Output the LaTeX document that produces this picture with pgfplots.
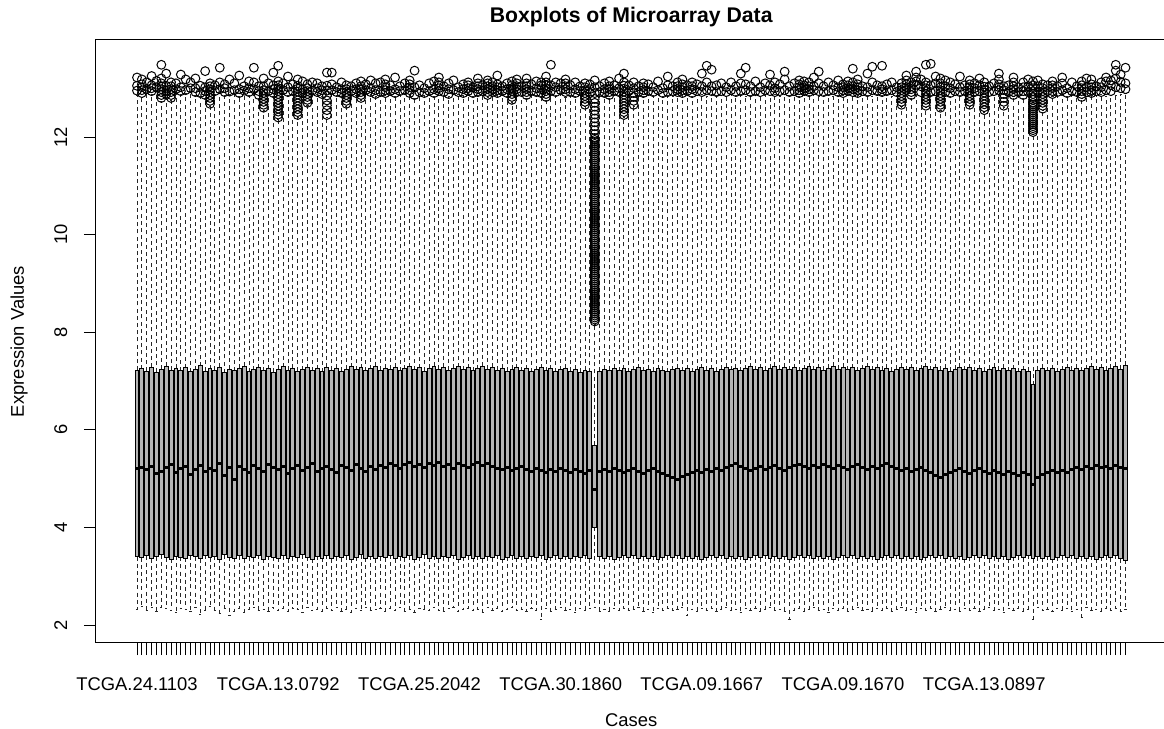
\documentclass[border=0pt]{standalone}
\usepackage{pgfplots}
\pgfplotsset{compat=1.18}
\usepackage{pgfplotstable}
\usepgfplotslibrary{statistics}
\usepackage{fontspec}
\setmainfont{Liberation Sans}

\pgfplotstableread{
x lw lq med uq uw
0 2.32 3.40 5.20 7.22 12.85
1 2.38 3.38 5.22 7.25 12.82
2 2.30 3.42 5.18 7.20 12.90
3 2.35 3.36 5.25 7.28 12.88
4 2.28 3.40 5.10 7.18 12.95
5 2.36 3.44 5.15 7.24 12.72
6 2.33 3.38 5.22 7.30 12.80
7 2.30 3.35 5.28 7.22 12.74
8 2.25 3.41 5.12 7.26 12.92
9 2.34 3.39 5.20 7.21 12.88
10 2.31 3.37 5.24 7.27 12.90
11 2.27 3.42 5.08 7.19 12.93
12 2.35 3.40 5.18 7.23 12.86
13 2.22 3.36 5.26 7.31 12.84
14 2.30 3.43 5.14 7.20 12.80
15 2.37 3.38 5.20 7.25 12.62
16 2.29 3.41 5.16 7.22 12.88
17 2.24 3.35 5.30 7.28 12.91
18 2.33 3.44 5.06 7.17 12.85
19 2.20 3.39 5.22 7.24 12.87
20 2.28 3.37 4.98 7.21 12.90
21 2.34 3.42 5.24 7.26 12.83
22 2.26 3.36 5.18 7.30 12.89
23 2.31 3.40 5.12 7.19 12.86
24 2.36 3.38 5.26 7.23 12.92
25 2.29 3.43 5.20 7.27 12.80
26 2.32 3.35 5.14 7.21 12.55
27 2.27 3.41 5.28 7.25 12.88
28 2.35 3.39 5.22 7.18 12.84
29 2.30 3.37 5.18 7.24 12.35
30 2.33 3.42 5.24 7.29 12.90
31 2.28 3.36 5.10 7.22 12.86
32 2.34 3.40 5.20 7.26 12.88
33 2.31 3.38 5.26 7.20 12.40
34 2.25 3.44 5.16 7.23 12.85
35 2.36 3.39 5.22 7.27 12.65
36 2.29 3.35 5.30 7.21 12.89
37 2.32 3.41 5.14 7.25 12.87
38 2.27 3.37 5.20 7.19 12.83
39 2.34 3.43 5.24 7.28 12.40
40 2.30 3.36 5.18 7.22 12.90
41 2.35 3.40 5.12 7.26 12.86
42 2.28 3.38 5.26 7.20 12.84
43 2.32 3.42 5.22 7.24 12.62
44 2.26 3.35 5.16 7.29 12.88
45 2.33 3.39 5.28 7.23 12.85
46 2.30 3.44 5.20 7.27 12.75
47 2.36 3.37 5.14 7.21 12.90
48 2.29 3.41 5.24 7.25 12.87
49 2.31 3.36 5.18 7.30 12.83
50 2.34 3.40 5.26 7.22 12.86
51 2.27 3.38 5.22 7.26 12.85
52 2.33 3.43 5.30 7.24 12.89
53 2.30 3.36 5.26 7.28 12.84
54 2.35 3.40 5.20 7.21 12.88
55 2.28 3.38 5.28 7.25 12.90
56 2.32 3.42 5.32 7.29 12.86
57 2.26 3.35 5.24 7.23 12.80
58 2.34 3.39 5.28 7.27 12.87
59 2.31 3.44 5.22 7.20 12.85
60 2.29 3.37 5.30 7.26 12.88
61 2.35 3.41 5.26 7.30 12.84
62 2.30 3.36 5.32 7.24 12.89
63 2.27 3.40 5.24 7.28 12.86
64 2.33 3.38 5.28 7.22 12.83
65 2.36 3.43 5.20 7.26 12.90
66 2.28 3.35 5.30 7.29 12.87
67 2.31 3.39 5.26 7.23 12.85
68 2.34 3.42 5.22 7.27 12.88
69 2.29 3.37 5.28 7.21 12.84
70 2.32 3.41 5.32 7.25 12.86
71 2.26 3.36 5.26 7.30 12.89
72 2.35 3.40 5.30 7.24 12.82
73 2.30 3.38 5.24 7.28 12.87
74 2.33 3.43 5.20 7.22 12.85
75 2.28 3.35 5.18 7.26 12.88
76 2.31 3.39 5.22 7.20 12.84
77 2.36 3.42 5.16 7.24 12.70
78 2.29 3.37 5.20 7.27 12.86
79 2.32 3.41 5.24 7.21 12.85
80 2.27 3.36 5.18 7.25 12.80
81 2.34 3.40 5.14 7.19 12.88
82 2.30 3.38 5.20 7.23 12.86
83 2.12 3.43 5.16 7.27 12.84
84 2.33 3.35 5.12 7.21 12.75
85 2.28 3.39 5.18 7.25 12.87
86 2.31 3.42 5.14 7.19 12.85
87 2.35 3.37 5.20 7.23 12.89
88 2.29 3.41 5.16 7.26 12.82
89 2.32 3.36 5.12 7.20 12.86
90 2.26 3.40 5.18 7.24 12.84
91 2.34 3.38 5.14 7.18 12.88
92 2.30 3.43 5.10 7.22 12.62
93 2.33 3.36 5.16 7.19 12.85
94 2.35 4.00 4.77 5.68 8.15
95 2.28 3.40 5.14 7.20 12.87
96 2.32 3.37 5.18 7.24 12.84
97 2.27 3.41 5.14 7.22 12.80
98 2.34 3.35 5.20 7.26 12.88
99 2.30 3.39 5.16 7.21 12.85
100 2.33 3.42 5.12 7.25 12.40
101 2.29 3.38 5.16 7.19 12.87
102 2.31 3.43 5.20 7.23 12.62
103 2.36 3.36 5.14 7.27 12.86
104 2.28 3.40 5.10 7.21 12.84
105 2.32 3.37 5.16 7.24 12.88
106 2.26 3.41 5.20 7.20 12.85
107 2.34 3.35 5.14 7.25 12.87
108 2.30 3.39 5.10 7.22 12.83
109 2.33 3.42 5.06 7.19 12.86
110 2.29 3.38 5.02 7.23 12.84
111 2.31 3.43 4.98 7.26 12.88
112 2.35 3.36 5.04 7.21 12.85
113 2.20 3.40 5.08 7.25 12.87
114 2.32 3.37 5.12 7.19 12.84
115 2.27 3.41 5.16 7.23 12.86
116 2.34 3.35 5.12 7.27 12.88
117 2.30 3.39 5.18 7.22 12.83
118 2.33 3.42 5.14 7.25 12.87
119 2.28 3.38 5.20 7.20 12.85
120 2.31 3.43 5.16 7.24 12.86
121 2.36 3.36 5.22 7.28 12.84
122 2.29 3.40 5.26 7.23 12.88
123 2.32 3.37 5.30 7.26 12.85
124 2.26 3.41 5.24 7.21 12.87
125 2.34 3.35 5.20 7.25 12.83
126 2.30 3.39 5.16 7.29 12.86
127 2.33 3.42 5.20 7.23 12.88
128 2.28 3.38 5.24 7.27 12.84
129 2.31 3.43 5.18 7.22 12.86
130 2.35 3.36 5.22 7.26 12.85
131 2.29 3.40 5.26 7.30 12.87
132 2.32 3.37 5.20 7.24 12.84
133 2.27 3.41 5.16 7.28 12.88
134 2.12 3.35 5.22 7.23 12.85
135 2.30 3.39 5.26 7.27 12.86
136 2.33 3.42 5.28 7.21 12.84
137 2.28 3.38 5.24 7.25 12.88
138 2.31 3.43 5.20 7.29 12.85
139 2.36 3.36 5.26 7.23 12.87
140 2.29 3.40 5.22 7.27 12.83
141 2.32 3.37 5.28 7.22 12.86
142 2.26 3.41 5.24 7.26 12.88
143 2.34 3.35 5.20 7.30 12.84
144 2.30 3.39 5.26 7.24 12.86
145 2.33 3.42 5.22 7.28 12.85
146 2.28 3.38 5.18 7.23 12.87
147 2.31 3.43 5.24 7.27 12.84
148 2.35 3.36 5.28 7.21 12.85
149 2.29 3.40 5.22 7.25 12.85
150 2.32 3.37 5.18 7.29 12.86
151 2.27 3.41 5.24 7.23 12.84
152 2.34 3.35 5.20 7.27 12.87
153 2.30 3.39 5.26 7.22 12.85
154 2.33 3.42 5.30 7.26 12.88
155 2.28 3.38 5.24 7.20 12.84
156 2.31 3.43 5.20 7.24 12.86
157 2.36 3.36 5.16 7.28 12.62
158 2.29 3.40 5.20 7.23 12.85
159 2.32 3.37 5.14 7.27 12.80
160 2.26 3.41 5.18 7.21 12.87
161 2.34 3.35 5.22 7.25 12.84
162 2.30 3.39 5.16 7.29 12.60
163 2.33 3.42 5.12 7.23 12.86
164 2.28 3.38 5.06 7.27 12.85
165 2.31 3.43 5.02 7.22 12.55
166 2.35 3.36 5.08 7.26 12.87
167 2.29 3.40 5.12 7.20 12.84
168 2.32 3.37 5.16 7.24 12.86
169 2.27 3.41 5.20 7.28 12.85
170 2.34 3.35 5.14 7.23 12.88
171 2.30 3.39 5.10 7.27 12.62
172 2.33 3.42 5.16 7.21 12.86
173 2.28 3.38 5.20 7.25 12.85
174 2.31 3.43 5.14 7.20 12.50
175 2.36 3.36 5.10 7.24 12.84
176 2.29 3.40 5.16 7.28 12.86
177 2.32 3.37 5.12 7.22 12.85
178 2.26 3.41 5.08 7.26 12.60
179 2.34 3.35 5.14 7.21 12.87
180 2.30 3.39 5.10 7.25 12.84
181 2.33 3.42 5.06 7.19 12.86
182 2.28 3.38 5.12 7.23 12.80
183 2.31 3.43 5.08 7.20 12.85
184 2.12 3.36 4.88 6.92 12.05
185 2.35 3.40 5.02 7.22 12.86
186 2.29 3.37 5.08 7.26 12.55
187 2.32 3.41 5.12 7.21 12.84
188 2.27 3.35 5.16 7.25 12.84
189 2.34 3.39 5.12 7.19 12.85
190 2.30 3.42 5.16 7.23 12.86
191 2.33 3.38 5.12 7.27 12.84
192 2.28 3.43 5.18 7.22 12.88
193 2.31 3.36 5.22 7.26 12.85
194 2.15 3.40 5.18 7.21 12.78
195 2.35 3.37 5.24 7.25 12.84
196 2.29 3.41 5.20 7.29 12.86
197 2.32 3.35 5.26 7.23 12.85
198 2.27 3.39 5.22 7.27 12.88
199 2.34 3.42 5.24 7.22 12.84
200 2.30 3.38 5.20 7.26 12.86
201 2.33 3.43 5.26 7.30 12.85
202 2.28 3.36 5.22 7.24 12.87
203 2.31 3.33 5.20 7.32 12.90
}\boxdata

\begin{document}
\begin{tikzpicture}
\begin{axis}[
  at={(48pt,43pt)}, anchor=south west,
  scale only axis, width=535.25pt, height=301.5pt,
  xmin=-8.42, xmax=211.42, ymin=1.631, ymax=13.988,
  boxplot/draw direction=y,
  boxplot/box extend=0.8,
  boxplot/whisker extend=0.45,
  boxplot/every box/.style={draw=black, fill=gray!58, line width=0.5pt, solid},
  boxplot/every median/.style={draw=black, line width=1.5pt, solid},
  boxplot/every whisker/.style={draw=black!85, line width=0.45pt, dash pattern=on 2pt off 1.6pt},
  axis line style={black, line width=0.5pt},
  tick align=outside, tick pos=left,
  major tick length=6pt, minor tick length=6pt,
  every tick/.style={black, line width=0.45pt},
  every minor tick/.style={black, line width=0.45pt},
  xtick={0,29,58,87,116,145,174},
  xticklabels={TCGA.24.1103,TCGA.13.0792,TCGA.25.2042,TCGA.30.1860,TCGA.09.1667,TCGA.09.1670,TCGA.13.0897},
  minor xtick={0,...,203},
  ytick={2,4,6,8,10,12},
  /pgf/number format/assume math mode=true,
  tick label style={font=\fontsize{9.2pt}{11pt}\selectfont, black},
  xticklabel style={anchor=north, inner ysep=11.2pt},
  yticklabel style={rotate=90, anchor=south, inner ysep=8.2pt},
  title={Boxplots of Microarray Data},
  title style={font=\fontsize{10.6pt}{12pt}\selectfont\bfseries, at={(axis description cs:0.5,1.0381)}, anchor=center, yshift=-6pt},
  xlabel={Cases},
  xlabel style={font=\fontsize{9.2pt}{11pt}\selectfont, at={(axis description cs:0.5,-0.1277)}, anchor=center},
  ylabel={Expression Values},
  ylabel style={font=\fontsize{9.2pt}{11pt}\selectfont, at={(axis description cs:-0.0719,0.5)}, anchor=center},
]
\pgfplotsinvokeforeach{0,...,203}{
  \pgfplotstablegetelem{#1}{lw}\of\boxdata \let\LW\pgfplotsretval
  \pgfplotstablegetelem{#1}{lq}\of\boxdata \let\LQ\pgfplotsretval
  \pgfplotstablegetelem{#1}{med}\of\boxdata \let\MED\pgfplotsretval
  \pgfplotstablegetelem{#1}{uq}\of\boxdata \let\UQ\pgfplotsretval
  \pgfplotstablegetelem{#1}{uw}\of\boxdata \let\UW\pgfplotsretval
  \edef\doboxplot{\noexpand\addplot[black, boxplot prepared={draw position=#1, lower whisker=\LW, lower quartile=\LQ, median=\MED, upper quartile=\UQ, upper whisker=\UW}] coordinates {};}
  \doboxplot
}
\addplot[only marks, mark=o, mark size=2.2pt, mark options={black, line width=0.5pt, solid}] coordinates {
(0,12.95)(0,13.05)(0,13.22)
(1,12.90)(1,12.96)(1,13.02)(1,13.08)(1,13.18)
(2,12.98)(2,13.12)
(3,12.94)(3,13.00)(3,13.06)(3,13.25)
(4,13.02)(4,13.15)
(5,12.80)(5,12.86)(5,12.92)(5,12.98)(5,13.04)(5,13.10)(5,13.20)(5,13.48)
(6,12.88)(6,12.95)(6,13.05)(6,13.30)
(7,12.80)(7,12.86)(7,12.92)(7,12.98)(7,13.04)(7,13.12)
(8,12.98)(8,13.10)
(9,12.94)(9,13.02)(9,13.28)
(10,12.96)(10,13.18)
(11,13.00)(11,13.12)
(12,12.92)(12,13.00)(12,13.20)
(13,12.90)(13,13.05)
(14,12.86)(14,12.94)(14,13.02)(14,13.35)
(15,12.68)(15,12.74)(15,12.80)(15,12.86)(15,12.92)(15,12.98)(15,13.04)(15,13.10)
(16,12.94)(16,13.06)
(17,12.98)(17,13.12)(17,13.42)
(18,12.92)(18,13.00)(18,13.08)
(19,12.93)(19,13.18)
(20,12.96)(20,13.10)
(21,12.90)(21,12.98)(21,13.26)
(22,12.95)(22,13.04)
(23,12.92)(23,13.00)(23,13.14)
(24,12.98)(24,13.12)(24,13.42)
(25,12.86)(25,12.94)(25,13.04)
(26,12.60)(26,12.66)(26,12.72)(26,12.78)(26,12.84)(26,12.90)(26,12.96)(26,13.04)(26,13.20)
(27,12.94)(27,13.10)
(28,12.90)(28,12.98)(28,13.06)(28,13.32)
(29,12.40)(29,12.46)(29,12.52)(29,12.58)(29,12.64)(29,12.70)(29,12.76)(29,12.82)(29,12.88)(29,12.94)(29,13.00)(29,13.06)(29,13.14)(29,13.46)
(30,12.96)(30,13.10)
(31,12.92)(31,13.02)(31,13.24)
(32,12.94)(32,13.08)
(33,12.45)(33,12.51)(33,12.57)(33,12.63)(33,12.69)(33,12.75)(33,12.81)(33,12.87)(33,12.93)(33,12.99)(33,13.05)(33,13.18)
(34,12.90)(34,12.98)(34,13.14)
(35,12.70)(35,12.76)(35,12.82)(35,12.88)(35,12.94)(35,13.00)(35,13.08)
(36,12.95)(36,13.12)
(37,12.92)(37,13.00)(37,13.10)
(38,12.88)(38,12.96)(38,13.04)
(39,12.45)(39,12.55)(39,12.65)(39,12.75)(39,12.85)(39,12.95)(39,13.05)(39,13.32)
(40,12.96)(40,13.08)(40,13.32)
(41,12.92)(41,13.02)
(42,12.90)(42,12.98)(42,13.12)
(43,12.68)(43,12.74)(43,12.80)(43,12.86)(43,12.92)(43,12.98)(43,13.06)
(44,12.94)(44,13.04)
(45,12.90)(45,12.98)(45,13.10)
(46,12.80)(46,12.86)(46,12.92)(46,12.98)(46,13.04)(46,13.14)
(47,12.96)(47,13.08)
(48,12.92)(48,13.00)(48,13.16)
(49,12.88)(49,12.96)(49,13.10)
(50,12.92)(50,13.12)
(51,12.90)(51,12.96)(51,13.02)(51,13.08)(51,13.18)
(52,12.94)(52,13.06)
(53,12.90)(53,12.98)(53,13.22)
(54,12.94)(54,13.04)
(55,12.96)(55,13.10)
(56,12.90)(56,12.96)(56,13.02)(56,13.08)(56,13.16)
(57,12.86)(57,13.02)(57,13.36)
(58,12.92)(58,13.06)
(59,12.90)(59,13.00)
(60,12.94)(60,13.10)
(61,12.90)(61,12.98)(61,13.14)
(62,12.94)(62,13.00)(62,13.06)(62,13.12)(62,13.22)
(63,12.92)(63,13.04)
(64,12.88)(64,12.98)(64,13.10)
(65,12.96)(65,13.16)
(66,12.92)(66,13.02)
(67,12.90)(67,12.98)(67,13.08)
(68,12.94)(68,13.00)(68,13.06)(68,13.12)
(69,12.90)(69,13.02)
(70,12.92)(70,12.98)(70,13.04)(70,13.10)(70,13.20)
(71,12.94)(71,13.06)
(72,12.86)(72,12.92)(72,12.98)(72,13.04)(72,13.10)(72,13.16)
(73,12.92)(73,12.98)(73,13.04)(73,13.12)
(74,12.90)(74,12.96)(74,13.02)(74,13.08)(74,13.26)
(75,12.94)(75,13.04)
(76,12.90)(76,12.98)(76,13.10)
(77,12.76)(77,12.82)(77,12.88)(77,12.94)(77,13.00)(77,13.06)(77,13.14)
(78,12.92)(78,12.98)(78,13.04)(78,13.10)(78,13.18)
(79,12.92)(79,13.04)
(80,12.86)(80,12.92)(80,12.98)(80,13.04)(80,13.10)(80,13.20)
(81,12.94)(81,13.08)
(82,12.92)(82,13.00)(82,13.14)
(83,12.90)(83,12.98)(83,13.06)(83,13.12)
(84,12.82)(84,12.88)(84,12.94)(84,13.00)(84,13.06)(84,13.12)(84,13.24)
(85,12.94)(85,13.06)(85,13.48)
(86,12.92)(86,13.02)(86,13.12)
(87,12.96)(87,13.10)
(88,12.92)(88,12.98)(88,13.04)(88,13.10)(88,13.18)
(89,12.92)(89,13.06)
(90,12.90)(90,12.98)(90,13.12)
(91,12.94)(91,13.04)
(92,12.66)(92,12.72)(92,12.78)(92,12.84)(92,12.90)(92,12.96)(92,13.02)(92,13.10)
(93,12.90)(93,12.98)(93,13.08)
(94,8.22)(94,8.26)(94,8.30)(94,8.34)(94,8.38)(94,8.42)(94,8.46)(94,8.50)(94,8.54)(94,8.58)
(94,8.62)(94,8.66)(94,8.70)(94,8.74)(94,8.78)(94,8.82)(94,8.86)(94,8.90)(94,8.94)(94,8.98)
(94,9.02)(94,9.06)(94,9.10)(94,9.14)(94,9.18)(94,9.22)(94,9.26)(94,9.30)(94,9.34)(94,9.38)
(94,9.42)(94,9.46)(94,9.50)(94,9.54)(94,9.58)(94,9.62)(94,9.66)(94,9.70)(94,9.74)(94,9.78)
(94,9.82)(94,9.86)(94,9.90)(94,9.94)(94,9.98)(94,10.02)(94,10.06)(94,10.10)(94,10.14)(94,10.18)
(94,10.22)(94,10.26)(94,10.30)(94,10.34)(94,10.38)(94,10.42)(94,10.46)(94,10.50)(94,10.54)(94,10.58)
(94,10.62)(94,10.66)(94,10.70)(94,10.74)(94,10.78)(94,10.82)(94,10.86)(94,10.90)(94,10.94)(94,10.98)
(94,11.02)(94,11.06)(94,11.10)(94,11.14)(94,11.18)(94,11.22)(94,11.26)(94,11.30)(94,11.34)(94,11.38)
(94,11.42)(94,11.46)(94,11.50)(94,11.54)(94,11.58)(94,11.62)(94,11.66)(94,11.70)(94,11.74)(94,11.78)
(94,11.82)(94,11.86)(94,11.90)(94,11.94)(94,11.98)(94,12.06)(94,12.14)(94,12.22)(94,12.30)(94,12.38)
(94,12.46)(94,12.54)(94,12.62)(94,12.70)(94,12.78)(94,12.90)(94,13.02)(94,13.16)
(95,12.92)(95,13.04)
(96,12.90)(96,12.98)(96,13.10)
(97,12.86)(97,12.92)(97,12.98)(97,13.04)(97,13.14)
(98,12.94)(98,13.06)
(99,12.92)(99,13.00)(99,13.20)
(100,12.45)(100,12.51)(100,12.57)(100,12.63)(100,12.69)(100,12.75)(100,12.81)(100,12.87)(100,12.93)(100,12.99)(100,13.05)(100,13.12)(100,13.30)
(101,12.94)(101,13.06)
(102,12.66)(102,12.74)(102,12.82)(102,12.90)(102,13.00)(102,13.12)
(103,12.92)(103,13.04)
(104,12.90)(104,12.96)(104,13.02)(104,13.10)
(105,12.94)(105,13.08)
(106,12.92)(106,13.02)
(107,12.96)(107,13.14)
(108,12.90)(108,13.00)
(109,12.92)(109,13.06)(109,13.24)
(110,12.94)(110,13.04)
(111,12.92)(111,12.98)(111,13.04)(111,13.12)
(112,12.90)(112,12.96)(112,13.02)(112,13.08)(112,13.18)
(113,12.94)(113,13.06)
(114,12.90)(114,12.98)(114,13.04)(114,13.12)
(115,12.94)(115,13.08)
(116,12.92)(116,13.04)(116,13.30)
(117,12.96)(117,13.12)(117,13.46)
(118,12.94)(118,13.04)(118,13.38)
(119,12.92)(119,13.06)
(120,12.94)(120,13.10)
(121,12.92)(121,13.02)
(122,12.96)(122,13.12)
(123,12.92)(123,13.04)
(124,12.94)(124,13.10)(124,13.30)
(125,12.96)(125,13.08)(125,13.42)
(126,12.92)(126,13.04)
(127,12.94)(127,13.14)
(128,12.92)(128,13.02)
(129,12.96)(129,13.10)
(130,12.94)(130,13.06)(130,13.28)
(131,12.92)(131,13.00)(131,13.12)
(132,12.94)(132,13.08)
(133,12.96)(133,13.18)(133,13.34)
(134,12.92)(134,13.04)
(135,12.94)(135,13.10)
(136,12.90)(136,12.96)(136,13.02)(136,13.08)(136,13.16)
(137,12.94)(137,13.00)(137,13.06)(137,13.14)
(138,12.92)(138,12.98)(138,13.04)(138,13.12)
(139,12.96)(139,13.04)(139,13.22)
(140,12.94)(140,13.10)(140,13.34)
(141,12.92)(141,13.04)
(142,12.94)(142,13.12)
(143,12.96)(143,13.06)
(144,12.92)(144,13.02)(144,13.16)
(145,12.90)(145,12.96)(145,13.02)(145,13.08)
(146,12.94)(146,13.00)(146,13.06)(146,13.14)
(147,12.92)(147,12.98)(147,13.04)(147,13.12)(147,13.40)
(148,12.90)(148,12.96)(148,13.02)(148,13.08)(148,13.18)
(149,12.94)(149,13.04)
(150,12.92)(150,13.02)(150,13.30)
(151,12.96)(151,13.12)(151,13.44)
(152,12.94)(152,13.06)
(153,12.92)(153,12.98)(153,13.04)(153,13.46)
(154,12.94)(154,13.08)
(155,12.96)(155,13.12)
(156,12.92)(156,13.02)
(157,12.66)(157,12.72)(157,12.78)(157,12.84)(157,12.90)(157,12.96)(157,13.02)(157,13.10)
(158,12.96)(158,13.02)(158,13.08)(158,13.16)(158,13.26)
(159,12.86)(159,12.92)(159,12.98)(159,13.04)(159,13.12)
(160,13.07)(160,13.14)(160,13.22)(160,13.34)
(161,12.92)(161,13.04)(161,13.18)
(162,12.64)(162,12.70)(162,12.76)(162,12.82)(162,12.88)(162,12.94)(162,13.00)(162,13.06)(162,13.12)(162,13.48)
(163,12.92)(163,13.06)(163,13.50)
(164,12.94)(164,13.10)(164,13.24)
(165,12.60)(165,12.66)(165,12.72)(165,12.78)(165,12.84)(165,12.90)(165,12.96)(165,13.02)(165,13.10)(165,13.20)
(166,12.92)(166,13.04)(166,13.16)
(167,12.90)(167,13.00)(167,13.12)
(168,12.94)(168,13.08)
(169,12.92)(169,13.02)(169,13.24)
(170,12.94)(170,13.06)
(171,12.66)(171,12.72)(171,12.78)(171,12.84)(171,12.90)(171,12.96)(171,13.02)(171,13.08)(171,13.16)
(172,12.92)(172,13.00)(172,13.10)
(173,12.94)(173,13.06)(173,13.20)
(174,12.55)(174,12.61)(174,12.67)(174,12.73)(174,12.79)(174,12.85)(174,12.91)(174,12.97)(174,13.03)(174,13.12)
(175,12.92)(175,13.04)
(176,12.94)(176,13.10)
(177,12.96)(177,13.02)(177,13.08)(177,13.18)(177,13.30)
(178,12.64)(178,12.72)(178,12.80)(178,12.88)(178,12.96)(178,13.04)
(179,12.92)(179,13.06)
(180,12.86)(180,12.92)(180,12.98)(180,13.04)(180,13.12)(180,13.22)
(181,12.92)(181,13.02)
(182,12.86)(182,12.94)(182,13.02)(182,13.12)
(183,12.92)(183,13.04)(183,13.18)
(184,12.10)(184,12.14)(184,12.18)(184,12.22)(184,12.26)(184,12.30)(184,12.34)(184,12.38)(184,12.42)(184,12.46)
(184,12.50)(184,12.54)(184,12.58)(184,12.62)(184,12.66)(184,12.70)(184,12.76)(184,12.82)(184,12.88)(184,12.94)(184,13.00)(184,13.06)(184,13.14)
(185,12.92)(185,13.04)(185,13.16)
(186,12.58)(186,12.64)(186,12.70)(186,12.76)(186,12.82)(186,12.88)(186,12.94)(186,13.00)(186,13.08)
(187,12.94)(187,13.06)
(188,12.88)(188,12.94)(188,13.00)(188,13.06)(188,13.14)
(189,12.92)(189,13.04)
(190,12.96)(190,13.10)(190,13.22)
(191,12.90)(191,13.00)
(192,12.94)(192,13.12)
(193,12.92)(193,13.04)
(194,12.82)(194,12.88)(194,12.94)(194,13.00)(194,13.06)(194,13.14)
(195,12.92)(195,13.02)(195,13.20)
(196,12.90)(196,12.96)(196,13.02)(196,13.08)(196,13.18)
(197,12.94)(197,13.04)
(198,12.92)(198,13.02)(198,13.12)
(199,12.96)(199,13.14)(199,13.22)
(200,12.94)(200,13.06)(200,13.16)
(201,13.02)(201,13.20)(201,13.36)(201,13.48)
(202,13.00)(202,13.13)(202,13.28)
(203,12.98)(203,13.10)(203,13.42)
};
\end{axis}
\pgfresetboundingbox
\path[use as bounding box] (0,0) rectangle (582pt,364.5pt);
\end{tikzpicture}
\end{document}
